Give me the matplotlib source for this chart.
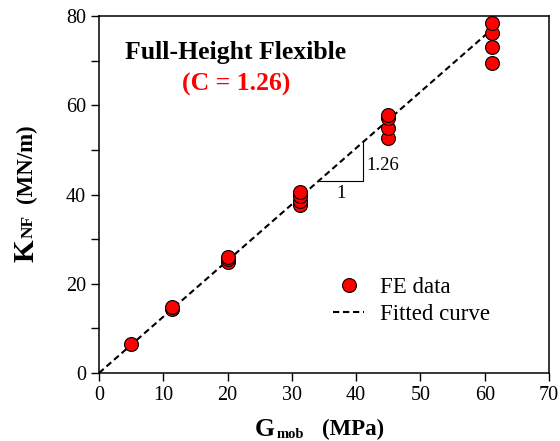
import matplotlib.pyplot as plt
import numpy as np

plt.rcParams['font.family'] = ['Liberation Serif', 'DejaVu Serif']

# FE data points (G_mob in MPa, K_NF in MN/m)
g_mob = [5.0, 11.3, 11.3, 20.0, 20.0, 20.0,
         31.2, 31.2, 31.2, 31.2,
         45.0, 45.0, 45.0, 45.0,
         61.2, 61.2, 61.2, 61.2]
k_nf = [6.5, 14.3, 14.9, 24.8, 25.5, 26.1,
        37.6, 38.6, 39.7, 40.5,
        52.7, 55.0, 57.1, 57.9,
        69.5, 73.1, 76.1, 78.4]

slope = 1.26
fit_x = np.array([0.0, 61.2])

W, H = 560, 441
fig = plt.figure(figsize=(W / 100, H / 100), dpi=100)
ax = fig.add_axes([99 / W, 1 - 373 / H, 450 / W, 357 / H])


def px(x, y):
    # pixel position (from top-left) -> figure fraction
    return x / W, 1 - y / H


line, = ax.plot(fit_x, slope * fit_x, 'k--', lw=1.5, dashes=(3, 1.8),
                label='Fitted curve', zorder=2)
pts, = ax.plot(g_mob, k_nf, 'o', ms=10, mfc='red', mec='black', mew=0.8,
               label='FE data', zorder=3, linestyle='none')

# slope triangle
x0, x1 = 34.1, 41.0
ax.plot([x0, x1, x1], [slope * x0, slope * x0, slope * x1], 'k-', lw=0.8)
ax.text(41.6, 45.5, '1.26', fontsize=13.5, va='baseline', ha='left')
ax.text(37.6, 39.2, '1', fontsize=13.5, va='baseline', ha='center')

fig.text(*px(236, 59), 'Full-Height Flexible', fontsize=18.5,
         fontweight='bold', ha='center', va='baseline')
fig.text(*px(236.5, 91), '(C = 1.26)', fontsize=18.5, fontweight='bold',
         color='red', ha='center', va='baseline')

ax.set_xlim(0, 70)
ax.set_ylim(0, 80)
ax.set_xticks(range(0, 71, 10))
ax.set_yticks(range(0, 81, 20))
ax.set_yticks(range(10, 80, 20), minor=True)
ax.tick_params(which='both', direction='out', labelsize=14.5, width=1,
               length=6, top=False, right=False)
for s in ax.spines.values():
    s.set_linewidth(1.1)

ax.legend(handles=[pts, line], loc='center left',
          bbox_to_anchor=px(324, 301), bbox_transform=fig.transFigure,
          borderaxespad=0, frameon=False, fontsize=16.5, handlelength=1.35,
          handletextpad=0.7, labelspacing=0.25)

# axis labels built from pieces so the subscripts sit like the original
fig.text(*px(255, 436), 'G', fontsize=18.5, fontweight='bold',
         ha='left', va='baseline')
fig.text(*px(277, 438), 'mob', fontsize=10.5, fontweight='bold',
         ha='left', va='baseline')
fig.text(*px(322, 435), '(MPa)', fontsize=16.5, fontweight='bold',
         ha='left', va='baseline')

fig.text(*px(33, 262), 'K', fontsize=21, fontweight='bold', rotation=90,
         rotation_mode='anchor', ha='left', va='baseline')
fig.text(*px(33, 238), 'NF', fontsize=12.5, fontweight='bold', rotation=90,
         rotation_mode='anchor', ha='left', va='baseline')
fig.text(*px(32, 203), '(MN/m)', fontsize=16.5, fontweight='bold', rotation=90,
         rotation_mode='anchor', ha='left', va='baseline')

fig.savefig('out.png', dpi=100)
